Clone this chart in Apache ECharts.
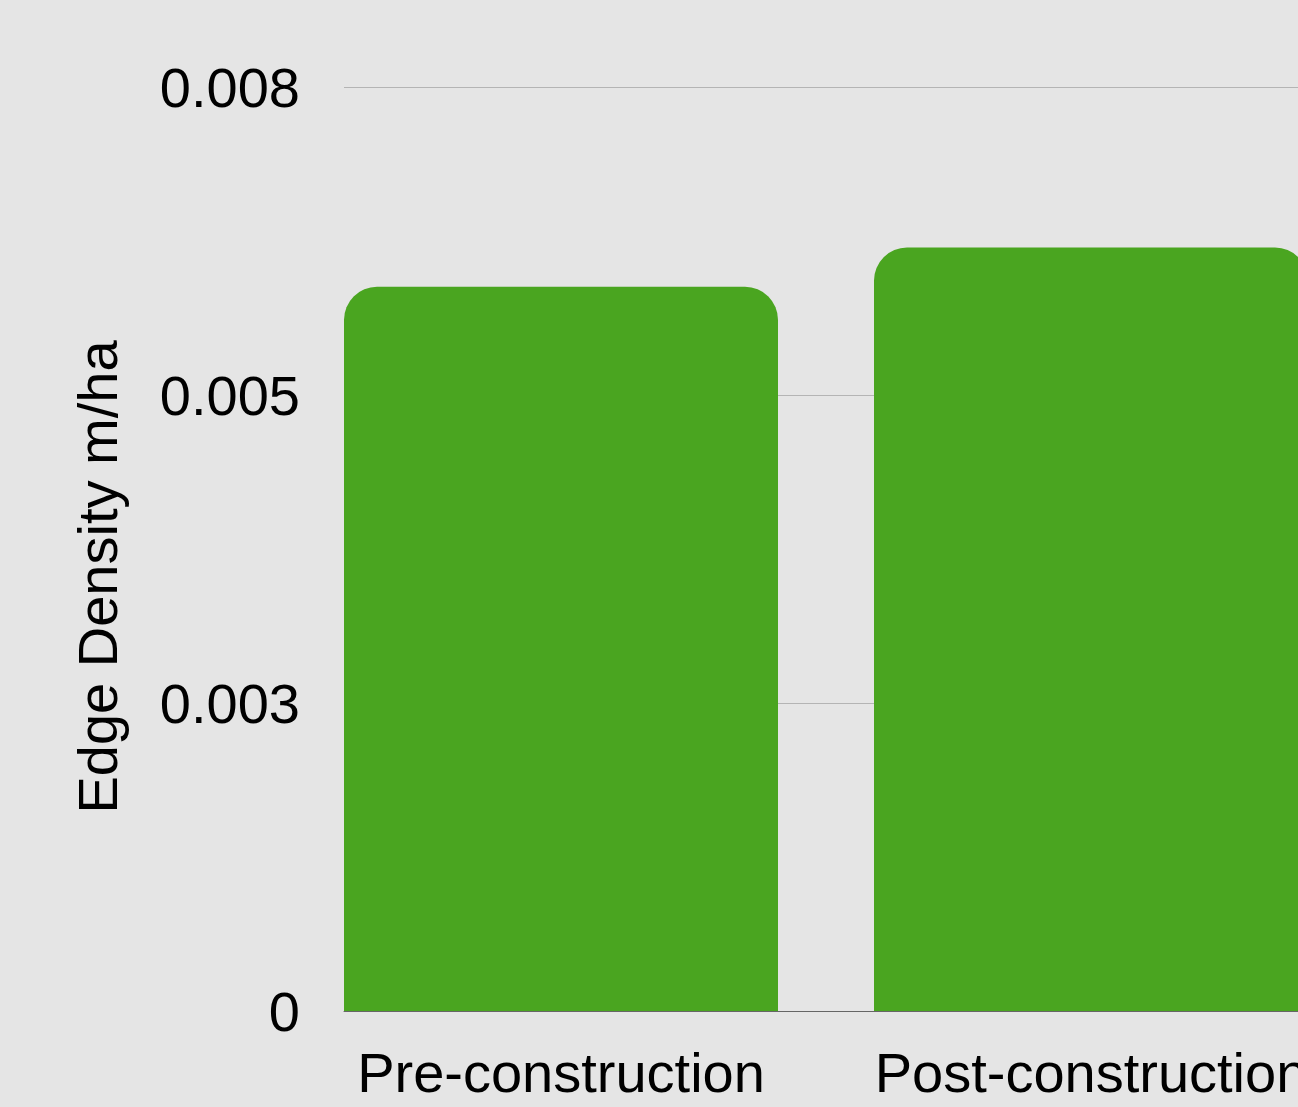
<!DOCTYPE html>
<html>
<head>
<meta charset="utf-8">
<style>
  html, body { margin: 0; padding: 0; background: #e5e5e5; overflow: hidden; }
  #chart { width: 1356px; height: 1107px; }
</style>
<script src="https://cdn.jsdelivr.net/npm/echarts@6/dist/echarts.min.js"></script>
</head>
<body>
<div id="chart"></div>
<script>
// Edge density before and after construction
const categories = ['Pre-construction', 'Post-construction'];
const edgeDensity = [0.00627, 0.00661];
const yMax = 0.008;
const yTickLabels = ['0', '0.003', '0.005', '0.008'];

const yStep = yMax / (yTickLabels.length - 1);
const FONT = '"Liberation Sans", Arial, sans-serif';

const chart = echarts.init(document.getElementById('chart'));
chart.setOption({
  backgroundColor: '#e5e5e5',
  animation: false,
  grid: [
    // bars
    { left: 296, right: 0, top: 87, bottom: 96 },
    // gridlines, value labels and baseline
    { left: 344, right: 58, top: 87, bottom: 96 }
  ],
  xAxis: [
    {
      gridIndex: 0,
      type: 'category',
      data: categories,
      axisLine: { show: false },
      axisTick: { show: false },
      axisLabel: { color: '#000', fontFamily: FONT, fontSize: 56, margin: 38, interval: 0, hideOverlap: false }
    },
    {
      gridIndex: 1,
      type: 'category',
      data: categories,
      z: 5,
      axisLine: { show: true, lineStyle: { color: '#666', width: 1 } },
      axisTick: { show: false },
      axisLabel: { show: false }
    }
  ],
  yAxis: [
    {
      gridIndex: 0,
      type: 'value',
      min: 0,
      max: yMax,
      show: false,
      splitLine: { show: false }
    },
    {
      gridIndex: 1,
      type: 'value',
      min: 0,
      max: yMax,
      interval: yStep,
      name: 'Edge Density m/ha',
      nameLocation: 'middle',
      nameGap: 214,
      nameTextStyle: { color: '#000', fontFamily: FONT, fontSize: 56, padding: [0, 56, 0, 0] },
      axisLine: { show: false },
      axisTick: { show: false },
      axisLabel: {
        margin: 44,
        formatter: v => '{v|' + yTickLabels[Math.round(v / yStep)] + '}',
        rich: {
          v: { color: '#000', fontFamily: FONT, fontSize: 56, padding: [10, 0, 0, 0] }
        }
      },
      splitLine: { show: true, lineStyle: { color: '#b4b4b4', width: 1 } }
    }
  ],
  series: [
    {
      type: 'bar',
      xAxisIndex: 0,
      yAxisIndex: 0,
      data: edgeDensity,
      barWidth: 434,
      itemStyle: { color: '#4aa520', borderRadius: [33, 33, 0, 0] }
    }
  ]
});
</script>
</body>
</html>
